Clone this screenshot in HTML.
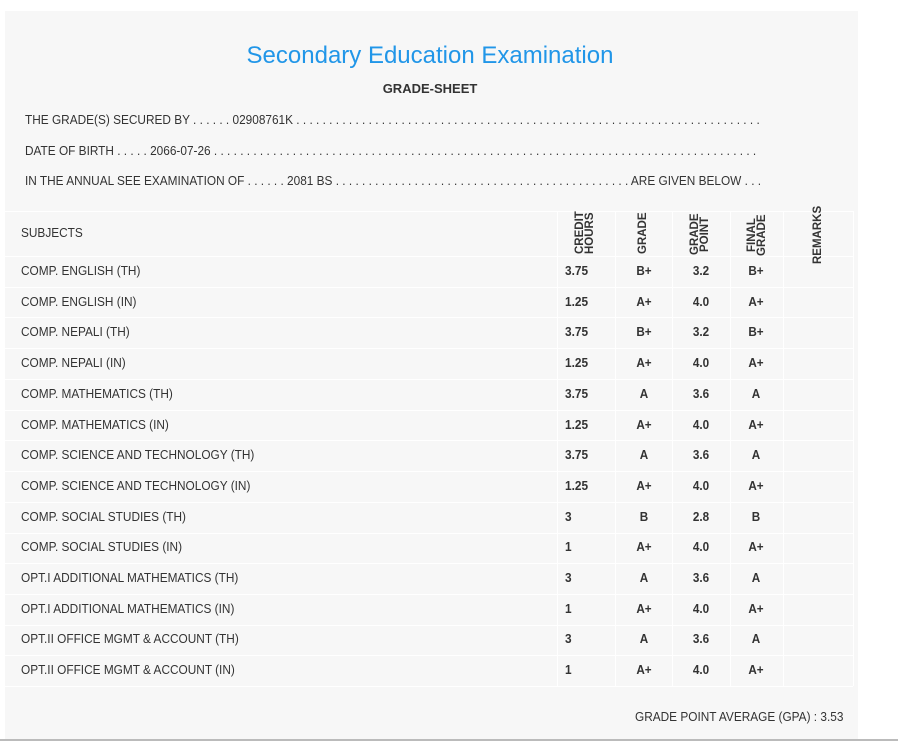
<!DOCTYPE html><html><head><style>
body{margin:0;width:898px;height:742px;background:#fff;position:relative;overflow:hidden;font-family:"Liberation Sans",sans-serif;color:#333}
.panel{position:absolute;left:5px;top:10px;width:853px;height:730px;background:#f7f7f7;border-top:1px solid #fff}
.bot{position:absolute;left:0;top:739px;width:898px;height:2px;background:#bbb}
.t{position:absolute;white-space:nowrap;font-size:13px;transform-origin:0 50%;transform:scaleX(.91)}
.title{position:absolute;left:0;width:860px;text-align:center;top:42px;font-size:24px;color:#2196e8}
.gs{position:absolute;left:0;width:860px;text-align:center;top:81px;font-size:13px;font-weight:bold}
.hl{position:absolute;left:5px;width:848px;height:1px;background:#fff}
.vl{position:absolute;width:1px;background:#fff;top:211px;height:475px}
.c{position:absolute;font-size:13px;text-align:center;width:50px;font-weight:bold;transform:scaleX(.9)}
.r{position:absolute;font-size:11.5px;font-weight:bold;writing-mode:vertical-rl;transform:rotate(180deg);text-align:center;line-height:10px;white-space:nowrap}
</style></head><body>
<div class="panel"></div>
<div class="bot"></div>
<div class="title">Secondary Education Examination</div>
<div class="gs">GRADE-SHEET</div>
<div class="t" style="left:25px;top:112px">THE GRADE(S) SECURED BY . . . . . . 02908761K . . . . . . . . . . . . . . . . . . . . . . . . . . . . . . . . . . . . . . . . . . . . . . . . . . . . . . . . . . . . . . . . . . . . . . .</div>
<div class="t" style="left:25px;top:143px">DATE OF BIRTH . . . . . 2066-07-26 . . . . . . . . . . . . . . . . . . . . . . . . . . . . . . . . . . . . . . . . . . . . . . . . . . . . . . . . . . . . . . . . . . . . . . . . . . . . . . . . . . .</div>
<div class="t" style="left:25px;top:173px">IN THE ANNUAL SEE EXAMINATION OF . . . . . . 2081 BS . . . . . . . . . . . . . . . . . . . . . . . . . . . . . . . . . . . . . . . . . . . . . ARE GIVEN BELOW . . .</div>
<div class="hl" style="top:211px"></div>
<div class="hl" style="top:256px"></div>
<div class="hl" style="top:287px"></div><div class="hl" style="top:317px"></div><div class="hl" style="top:348px"></div><div class="hl" style="top:379px"></div><div class="hl" style="top:410px"></div><div class="hl" style="top:440px"></div><div class="hl" style="top:471px"></div><div class="hl" style="top:502px"></div><div class="hl" style="top:533px"></div><div class="hl" style="top:563px"></div><div class="hl" style="top:594px"></div><div class="hl" style="top:625px"></div><div class="hl" style="top:655px"></div><div class="hl" style="top:686px"></div>
<div class="vl" style="left:557px"></div><div class="vl" style="left:615px"></div><div class="vl" style="left:672px"></div><div class="vl" style="left:730px"></div><div class="vl" style="left:783px"></div><div class="vl" style="left:853px"></div>
<div class="t" style="left:21px;top:225px">SUBJECTS</div>
<div class="r" style="left:575px;top:212px;height:42px">CREDIT<br>HOURS</div>
<div class="r" style="left:638px;top:212px;height:42px">GRADE</div>
<div class="r" style="left:690px;top:212px;height:44px">GRADE<br>POINT</div>
<div class="r" style="left:747px;top:214px;height:42px">FINAL<br>GRADE</div>
<div class="r" style="left:813px;top:206px;height:58px">REMARKS</div>
<div id="rows"></div>
<div class="t" style="left:635px;top:709px">GRADE POINT AVERAGE (GPA) : 3.53</div>
<script>
var d=[["COMP. ENGLISH (TH)","3.75","B+","3.2"],["COMP. ENGLISH (IN)","1.25","A+","4.0"],["COMP. NEPALI (TH)","3.75","B+","3.2"],["COMP. NEPALI (IN)","1.25","A+","4.0"],["COMP. MATHEMATICS (TH)","3.75","A","3.6"],["COMP. MATHEMATICS (IN)","1.25","A+","4.0"],["COMP. SCIENCE AND TECHNOLOGY (TH)","3.75","A","3.6"],["COMP. SCIENCE AND TECHNOLOGY (IN)","1.25","A+","4.0"],["COMP. SOCIAL STUDIES (TH)","3","B","2.8"],["COMP. SOCIAL STUDIES (IN)","1","A+","4.0"],["OPT.I ADDITIONAL MATHEMATICS (TH)","3","A","3.6"],["OPT.I ADDITIONAL MATHEMATICS (IN)","1","A+","4.0"],["OPT.II OFFICE MGMT & ACCOUNT (TH)","3","A","3.6"],["OPT.II OFFICE MGMT & ACCOUNT (IN)","1","A+","4.0"]];
var h="";d.forEach(function(r,i){var y=263+i*30.7;
h+='<div class="t" style="left:21px;top:'+y+'px">'+r[0].replace("&","&amp;")+'</div>';
h+='<div class="t" style="left:565px;top:'+y+'px;font-weight:bold">'+r[1]+'</div>';
h+='<div class="c" style="left:619px;top:'+y+'px">'+r[2]+'</div>';
h+='<div class="c" style="left:676px;top:'+y+'px">'+r[3]+'</div>';
h+='<div class="c" style="left:731px;top:'+y+'px">'+r[2]+'</div>';});
document.getElementById("rows").innerHTML=h;
</script>
</body></html>
